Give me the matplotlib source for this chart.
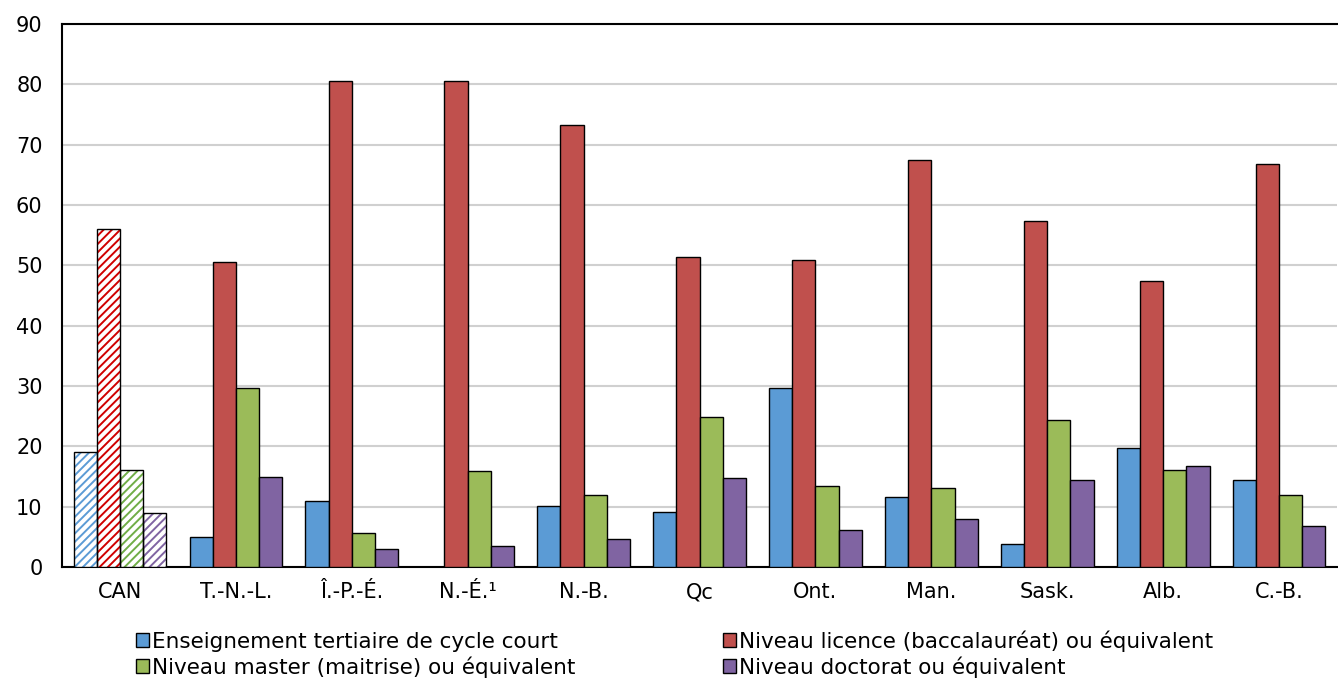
import numpy as np
import matplotlib.pyplot as plt
from matplotlib.patches import Patch

regions = ['CAN', 'T.-N.-L.', 'Î.-P.-É.', 'N.-É.¹', 'N.-B.', 'Qc', 'Ont.', 'Man.', 'Sask.', 'Alb.', 'C.-B.']

short_cycle = [19.0, 5.0, 11.0, 0.0, 10.1, 9.1, 29.6, 11.6, 3.8, 19.8, 14.5]
bachelor = [56.0, 50.5, 80.5, 80.5, 73.2, 51.4, 50.9, 67.5, 57.4, 47.4, 66.8]
master = [16.1, 29.7, 5.6, 15.9, 12.0, 24.8, 13.4, 13.1, 24.4, 16.0, 12.0]
doctorate = [9.0, 14.9, 3.0, 3.5, 4.7, 14.7, 6.2, 7.9, 14.4, 16.8, 6.8]

labels = ['Enseignement tertiaire de cycle court',
          'Niveau licence (baccalauréat) ou équivalent',
          'Niveau master (maitrise) ou équivalent',
          'Niveau doctorat ou équivalent']
colors = ['#5B9BD5', '#C0504D', '#9BBB59', '#8064A2']
hatch_colors = ['#5B9BD5', '#D00000', '#70AD47', '#8064A2']

plt.rcParams['font.family'] = 'DejaVu Sans'
plt.rcParams['hatch.linewidth'] = 1.4

fig = plt.figure(figsize=(13.38, 6.81), dpi=100)
ax = fig.add_axes([62 / 1338, 1 - 567 / 681, 1275 / 1338, 543 / 681])

x = np.arange(len(regions))
w = 0.2
series = [short_cycle, bachelor, master, doctorate]
for i, vals in enumerate(series):
    pos = x + (i - 1.5) * w
    # CAN is drawn hatched, the provinces solid
    ax.bar(pos[1:], vals[1:], w, color=colors[i], edgecolor='black', linewidth=1, zorder=3)
    ax.bar(pos[0], vals[0], w, color='white', edgecolor=hatch_colors[i], hatch='////', linewidth=0, zorder=3)
    ax.bar(pos[0], vals[0], w, color='none', edgecolor='black', linewidth=1, zorder=4)

ax.set_xlim(-0.5, len(regions) - 0.5)
ax.set_ylim(0, 90)
ax.set_yticks(range(0, 91, 10))
ax.set_xticks(x)
ax.set_xticklabels(regions)
ax.tick_params(axis='both', length=0, labelsize=15, colors='black')
ax.tick_params(axis='x', pad=11)
ax.tick_params(axis='y', pad=14)
ax.yaxis.grid(True, color='#D0D0D0', linewidth=1.5, zorder=0)
ax.set_axisbelow(True)
for s in ['left', 'bottom', 'top']:
    ax.spines[s].set_linewidth(1.5)
ax.spines['right'].set_visible(False)

handles = [Patch(facecolor=c, edgecolor='black', linewidth=1) for c in colors]
order = [0, 2, 1, 3]
fig.legend([handles[k] for k in order], [labels[k] for k in order], ncol=2,
           loc='lower left', bbox_to_anchor=(127 / 1338, -0.008), frameon=False,
           fontsize=15.5, handlelength=0.6, handleheight=0.6, handletextpad=0.15,
           columnspacing=6.85, labelspacing=0.22, borderaxespad=0)

fig.savefig('out.png', dpi=100)
